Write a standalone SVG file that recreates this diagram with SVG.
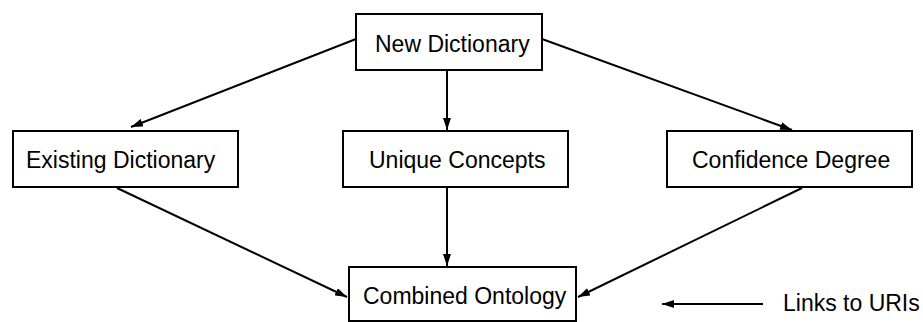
<svg xmlns="http://www.w3.org/2000/svg" width="923" height="322" viewBox="0 0 923 322">
<style>
.box{fill:#fff;stroke:#000;stroke-width:2}
.lbl{font-family:"Liberation Sans",Arial,sans-serif;font-size:23px;fill:#000}
.edge{stroke:#000;stroke-width:2;fill:none;marker-end:url(#ah)}
</style>
<defs>
<marker id="ah" markerUnits="userSpaceOnUse" markerWidth="12" markerHeight="8" refX="12" refY="4" orient="auto">
<path d="M0,0 L12,4 L0,8 z" fill="#000"/>
</marker>
</defs>
<rect width="923" height="322" fill="#fff"/>
<g id="connectors">
<line class="edge" x1="356" y1="39" x2="131" y2="127"/>
<line class="edge" x1="447" y1="70" x2="447" y2="130"/>
<line class="edge" x1="542" y1="39" x2="792" y2="130"/>
<line class="edge" x1="117" y1="188" x2="347" y2="297"/>
<line class="edge" x1="447" y1="188" x2="447" y2="266"/>
<line class="edge" x1="802" y1="188" x2="578" y2="297"/>
<line class="edge" x1="763" y1="304" x2="662" y2="304"/>
</g>
<g id="new-dictionary">
<rect class="box" x="356" y="14" width="186" height="56"/>
<text class="lbl" x="375" y="52">New Dictionary</text>
</g>
<g id="existing-dictionary">
<rect class="box" x="13" y="131" width="225" height="56"/>
<text class="lbl" x="26" y="168">Existing Dictionary</text>
</g>
<g id="unique-concepts">
<rect class="box" x="343" y="131" width="225" height="56"/>
<text class="lbl" x="369" y="168">Unique Concepts</text>
</g>
<g id="confidence-degree">
<rect class="box" x="667" y="131" width="245" height="56"/>
<text class="lbl" x="692" y="168">Confidence Degree</text>
</g>
<g id="combined-ontology">
<rect class="box" x="349" y="267" width="227" height="54"/>
<text class="lbl" x="363" y="304">Combined Ontology</text>
</g>
<g id="links-label">
<text class="lbl" x="783" y="311">Links to URIs</text>
</g>
</svg>
